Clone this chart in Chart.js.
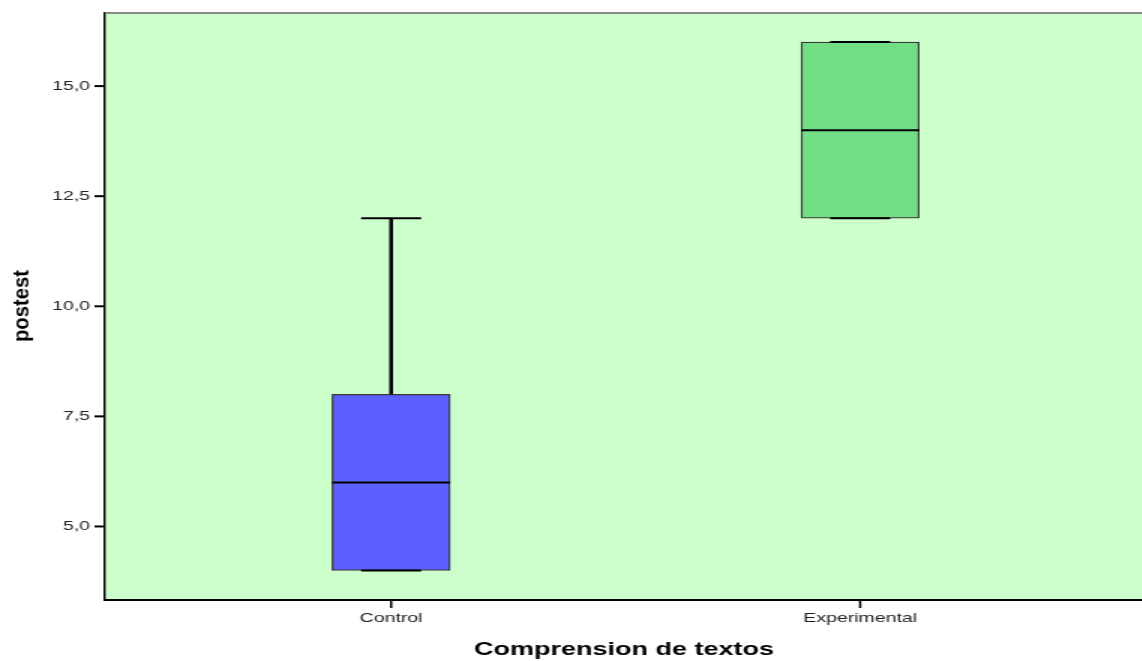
<!DOCTYPE html>
<html>
<head>
<meta charset="utf-8">
<script src="https://cdn.jsdelivr.net/npm/chart.js@4"></script>
<style>
  html, body { margin: 0; padding: 0; background: #fff; overflow: hidden; }
  /* the original picture is stretched sideways, so the whole canvas is too */
  #wrap { width: 762px; height: 661px; transform: scaleX(1.5); transform-origin: 0 0; }
</style>
</head>
<body>
<div id="wrap"><canvas id="boxChart" width="762" height="661"></canvas></div>
<script>
const categories = ["Control", "Experimental"];
const mins = [4, 12];
const q1s = [4, 12];
const medians = [6, 14];
const q3s = [8, 16];
const maxs = [12, 16];
const boxColors = ["#5b60ff", "#72de86"];
const yTicks = [5, 7.5, 10, 12.5, 15];

const BOX_W = 78.7;   // natural px, ~118px once stretched
const CAP_W = 40;

const plotBackground = {
  id: "plotBackground",
  beforeDraw(chart) {
    const { ctx, chartArea: a } = chart;
    ctx.save();
    ctx.fillStyle = "#ccffcc";
    ctx.fillRect(a.left, a.top, a.right - a.left, a.bottom - a.top);
    ctx.restore();
  },
};

const whiskers = {
  id: "whiskers",
  afterDatasetsDraw(chart) {
    const { ctx } = chart;
    const x = chart.scales.x;
    const y = chart.scales.y;
    ctx.save();
    ctx.strokeStyle = "#000";
    categories.forEach((c, i) => {
      const cx = x.getPixelForValue(i + 1);
      // whisker stems
      ctx.lineWidth = 2.5;
      ctx.beginPath();
      ctx.moveTo(cx, y.getPixelForValue(q3s[i]));
      ctx.lineTo(cx, y.getPixelForValue(maxs[i]));
      ctx.moveTo(cx, y.getPixelForValue(q1s[i]));
      ctx.lineTo(cx, y.getPixelForValue(mins[i]));
      ctx.stroke();
      // caps
      ctx.lineWidth = 2;
      ctx.beginPath();
      [mins[i], maxs[i]].forEach((v) => {
        const py = y.getPixelForValue(v);
        ctx.moveTo(cx - CAP_W / 2, py);
        ctx.lineTo(cx + CAP_W / 2, py);
      });
      ctx.stroke();
      // median
      const my = y.getPixelForValue(medians[i]);
      ctx.lineWidth = 2;
      ctx.beginPath();
      ctx.moveTo(cx - BOX_W / 2, my);
      ctx.lineTo(cx + BOX_W / 2, my);
      ctx.stroke();
    });
    ctx.restore();
  },
};

const frameAndTitle = {
  id: "frameAndTitle",
  afterDraw(chart) {
    const { ctx, chartArea: a } = chart;
    const x = chart.scales.x;
    const y = chart.scales.y;
    ctx.save();
    ctx.fillStyle = "#8a8a8a";
    ctx.fillRect(a.left, a.top - 1, a.right - a.left, 2);

    // tick marks
    ctx.fillStyle = "#000";
    yTicks.forEach((v) => {
      const py = y.getPixelForValue(v);
      ctx.fillRect(a.left - 7, py - 1, 7, 2);
    });
    categories.forEach((c, i) => {
      const px = x.getPixelForValue(i + 1);
      ctx.fillRect(px - 0.75, a.bottom, 1.5, 8);
    });

    // y axis title, condensed bold
    ctx.translate(15, 306);
    ctx.rotate(-Math.PI / 2);
    ctx.font = "bold 15px 'Liberation Sans', Arial, sans-serif";
    const w = ctx.measureText("postest").width;
    ctx.scale(72 / w, 1);
    ctx.fillStyle = "#000";
    ctx.textAlign = "center";
    ctx.textBaseline = "middle";
    ctx.fillText("postest", 0, 0);
    ctx.restore();
  },
};

const ctx = document.getElementById("boxChart");

new Chart(ctx, {
  type: "bar",
  data: {
    datasets: [
      {
        data: categories.map((c, i) => ({ x: i + 1, y: [q1s[i], q3s[i]] })),
        backgroundColor: boxColors,
        borderColor: "#3a3a3a",
        borderWidth: 1.3,
        borderSkipped: false,
        barThickness: BOX_W,
      },
    ],
  },
  options: {
    responsive: false,
    animation: false,
    layout: { padding: { top: 13, left: 0, right: 0, bottom: 0 } },
    plugins: { legend: { display: false }, tooltip: { enabled: false } },
    scales: {
      x: {
        type: "linear",
        min: 0.39,
        max: 2.603,
        offset: false,
        afterBuildTicks: (s) => {
          s.ticks = categories.map((c, i) => ({ value: i + 1 }));
        },
        afterFit: (s) => { s.height = 61; },
        ticks: {
          callback: (v) => categories[v - 1],
          color: "#222",
          font: { family: "'Liberation Sans', Arial, sans-serif", size: 13 },
          padding: 11,
          maxRotation: 0,
        },
        grid: { display: false, drawOnChartArea: false, drawTicks: false, offset: false },
        border: { display: true, color: "#000", width: 2 },
        title: {
          display: true,
          text: "Comprension de textos",
          color: "#000",
          font: { family: "'Liberation Sans', Arial, sans-serif", size: 18, weight: "bold" },
          padding: { top: 0, bottom: 0 },
        },
      },
      y: {
        min: 3.33,
        max: 16.66,
        afterBuildTicks: (s) => {
          s.ticks = yTicks.map((v) => ({ value: v }));
        },
        afterFit: (s) => { s.width = 70; },
        ticks: {
          callback: (v) => v.toFixed(1).replace(".", ","),
          color: "#222",
          font: { family: "'Liberation Sans', Arial, sans-serif", size: 13 },
          padding: 3,
        },
        grid: {
          display: true,
          drawOnChartArea: false,
          drawTicks: true,
          tickLength: 7,
          tickColor: "rgba(0,0,0,0)",
        },
        border: { display: true, color: "#000", width: 1.4 },
      },
    },
  },
  plugins: [plotBackground, whiskers, frameAndTitle],
});
</script>
</body>
</html>
